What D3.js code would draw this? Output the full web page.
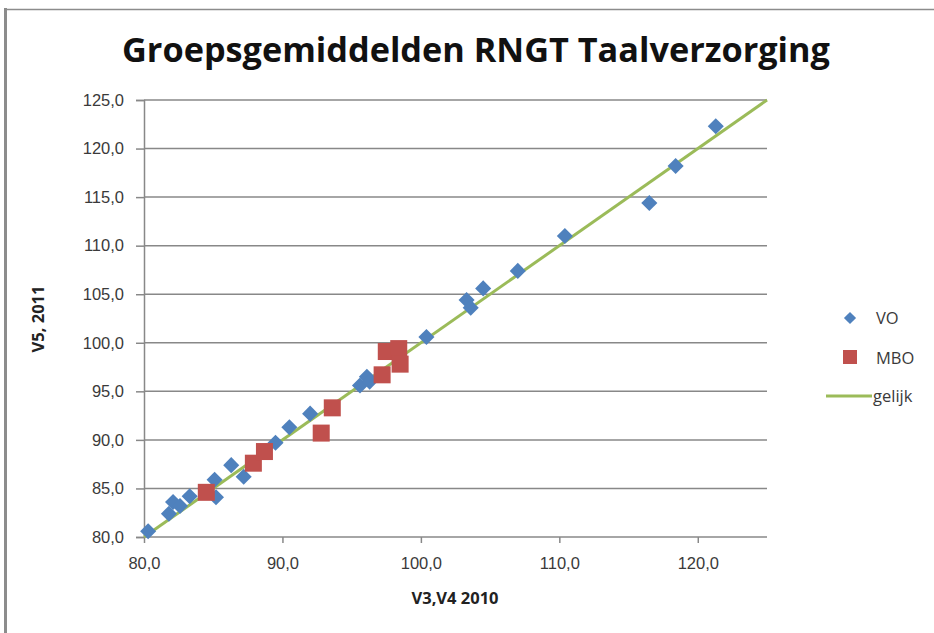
<!DOCTYPE html>
<html>
<head>
<meta charset="utf-8">
<script src="https://cdn.jsdelivr.net/npm/d3@7"></script>
<style>
  body { margin: 0; background: #fff; }
  svg { display: block; font-family: "Open Sans", "DejaVu Sans", sans-serif; }
</style>
</head>
<body>
<div id="chart"></div>
<script>
// VO groups: [V3,V4 2010, V5 2011]
var voX = [80.3, 81.8, 82.1, 82.6, 83.3, 85.2, 85.1, 86.3, 87.2, 89.5, 90.5, 92.0,
           95.6, 96.1, 96.3, 100.4, 103.3, 103.6, 104.5, 107.0, 110.4, 116.5, 118.4, 121.3];
var voY = [80.6, 82.4, 83.6, 83.2, 84.2, 84.1, 85.9, 87.4, 86.2, 89.7, 91.3, 92.7,
           95.6, 96.5, 96.0, 100.6, 104.4, 103.6, 105.6, 107.4, 111.0, 114.4, 118.2, 122.3];
// MBO groups
var mboX = [84.5, 87.9, 88.7, 92.8, 93.6, 97.5, 98.4, 98.5, 97.2];
var mboY = [84.6, 87.6, 88.8, 90.7, 93.3, 99.1, 99.4, 97.8, 96.7];
// line "gelijk"
var lineX = [80, 125];
var lineY = [80, 125];

var xTicks = [80, 90, 100, 110, 120];
var yTicks = [80, 85, 90, 95, 100, 105, 110, 115, 120, 125];

var width = 934, height = 633;
var colorVO = "#4F81BD", colorMBO = "#C0504D", colorLine = "#9BBB59";

var svg = d3.select("#chart").append("svg")
    .attr("width", width)
    .attr("height", height);

// frame (only left and top visible in the screenshot)
svg.append("line").attr("x1", 5.5).attr("x2", 5.5).attr("y1", 8).attr("y2", height)
    .attr("stroke", "#8c8c8c").attr("stroke-width", 3);
svg.append("line").attr("x1", 5).attr("x2", width).attr("y1", 9.5).attr("y2", 9.5)
    .attr("stroke", "#8c8c8c").attr("stroke-width", 1.5);

var x = d3.scaleLinear().domain([80, 125]).range([144, 767]);
var y = d3.scaleLinear().domain([80, 125]).range([537, 100]);

var fmt = function (d) { return d3.format(".1f")(d).replace(".", ","); };

// gridlines
svg.append("g").selectAll("line")
    .data(yTicks.filter(function (d) { return d > 80; }))
    .enter().append("line")
    .attr("x1", x(80)).attr("x2", x(125))
    .attr("y1", function (d) { return y(d); })
    .attr("y2", function (d) { return y(d); })
    .attr("stroke", "#888").attr("stroke-width", 1.5);

// axes
var yAxis = svg.append("g")
    .attr("transform", "translate(" + x(80) + ",0)")
    .call(d3.axisLeft(y).tickValues(yTicks).tickFormat(fmt).tickSize(8).tickPadding(12));
var xAxis = svg.append("g")
    .attr("transform", "translate(0," + y(80) + ")")
    .call(d3.axisBottom(x).tickValues(xTicks).tickFormat(fmt).tickSize(6).tickPadding(14));

[xAxis, yAxis].forEach(function (a) {
    a.select(".domain").attr("stroke", "#888").attr("stroke-width", 1.5);
    a.selectAll(".tick line").attr("stroke", "#888").attr("stroke-width", 1.5);
    a.selectAll(".tick text").attr("fill", "#3a3a3a")
        .style("font-size", "16.5px");
});
xAxis.select(".domain").attr("d", "M" + x(80) + ",0H" + x(125));

// equal line
svg.append("path")
    .datum(d3.zip(lineX, lineY))
    .attr("fill", "none")
    .attr("stroke", colorLine)
    .attr("stroke-width", 3)
    .attr("d", d3.line().x(function (d) { return x(d[0]); }).y(function (d) { return y(d[1]); }));

// VO diamonds
var diamond = d3.symbol().type(d3.symbolDiamond2).size(165);
svg.append("g").selectAll("path")
    .data(d3.zip(voX, voY))
    .enter().append("path")
    .attr("d", diamond)
    .attr("transform", function (d) { return "translate(" + x(d[0]) + "," + y(d[1]) + ")"; })
    .attr("fill", colorVO);

// MBO squares
var sq = 17;
svg.append("g").selectAll("rect")
    .data(d3.zip(mboX, mboY))
    .enter().append("rect")
    .attr("x", function (d) { return x(d[0]) - sq / 2; })
    .attr("y", function (d) { return y(d[1]) - sq / 2; })
    .attr("width", sq).attr("height", sq)
    .attr("fill", colorMBO);

// title
var title = svg.append("text")
    .attr("x", 476).attr("y", 62)
    .attr("text-anchor", "middle")
    .attr("font-weight", "bold")
    .style("font-size", "32px")
    .attr("fill", "#111")
    .text("Groepsgemiddelden RNGT Taalverzorging");
var tw = title.node().getComputedTextLength();
title.style("font-size", (32 * 708 / tw) + "px");

// axis titles
svg.append("text")
    .attr("x", 455).attr("y", 604)
    .attr("text-anchor", "middle")
    .attr("font-weight", "bold")
    .style("font-size", "16.5px")
    .attr("fill", "#222")
    .text("V3,V4 2010");
svg.append("text")
    .attr("transform", "translate(44,319) rotate(-90)")
    .attr("text-anchor", "middle")
    .attr("font-weight", "bold")
    .style("font-size", "16.5px")
    .attr("fill", "#222")
    .text("V5, 2011");

// legend
var legendNames = ["VO", "MBO", "gelijk"];
var lg = svg.append("g");
lg.append("path")
    .attr("d", d3.symbol().type(d3.symbolDiamond2).size(95))
    .attr("transform", "translate(850,318)")
    .attr("fill", colorVO);
lg.append("rect")
    .attr("x", 843).attr("y", 350).attr("width", 14).attr("height", 14)
    .attr("fill", colorMBO);
lg.append("line")
    .attr("x1", 826).attr("x2", 872).attr("y1", 396).attr("y2", 396)
    .attr("stroke", colorLine).attr("stroke-width", 3);
lg.selectAll("text")
    .data(legendNames)
    .enter().append("text")
    .attr("x", function (d, i) { return i < 2 ? 876 : 873; })
    .attr("y", function (d, i) { return [324, 364, 402][i]; })
    .style("font-size", "16.5px")
    .attr("fill", "#3a3a3a")
    .text(function (d) { return d; });
</script>
</body>
</html>
